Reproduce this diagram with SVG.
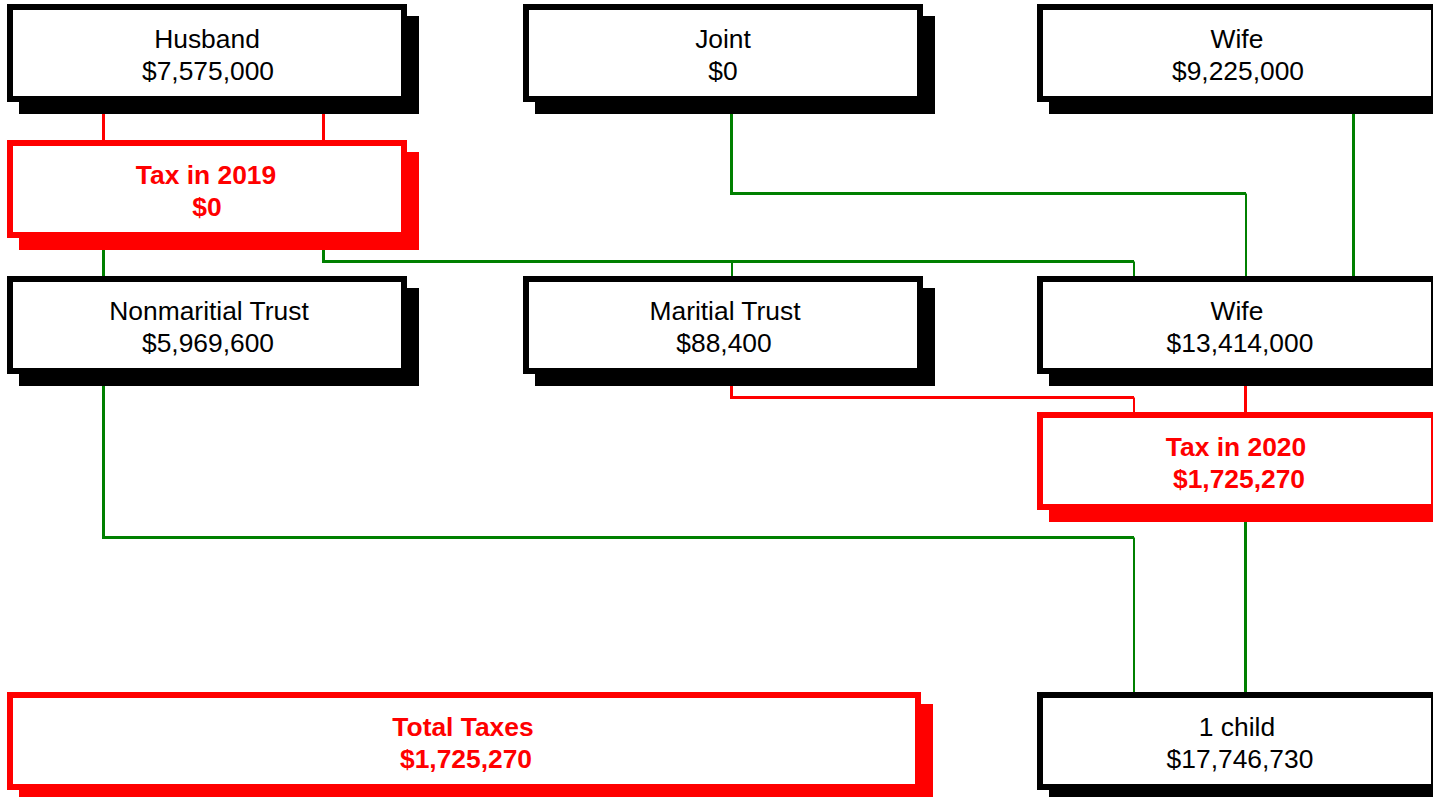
<svg xmlns="http://www.w3.org/2000/svg" width="1433" height="797" viewBox="0 0 1433 797">
<style>
.bg{fill:#ffffff}
.box{fill:#ffffff;stroke:#000000;stroke-width:6}
.sh{fill:#000000}
.rbox{fill:#ffffff;stroke:#ff0000;stroke-width:6}
.rsh{fill:#ff0000}
.t{font-family:"Liberation Sans",Arial,sans-serif;font-size:26.4px;fill:#000000;text-anchor:middle}
.rt{font-family:"Liberation Sans",Arial,sans-serif;font-size:26.4px;font-weight:bold;fill:#ff0000;text-anchor:middle}
.g{fill:none;stroke:#008000;stroke-width:3}
.gt{fill:none;stroke:#008000;stroke-width:2}
.r{fill:none;stroke:#ff0000;stroke-width:3}
.rtn{fill:none;stroke:#ff0000;stroke-width:2}
</style>
<rect class="bg" x="0" y="0" width="1433" height="797"/>
<g id="connectors">
  <path class="r" d="M103.5,100 V142"/>
  <path class="r" d="M323.5,100 V142"/>
  <path class="g" d="M103.5,236 V278"/>
  <path class="g" d="M323.5,236 V261.5 H1134"/>
  <path class="gt" d="M1134,261.5 V278"/>
  <path class="gt" d="M732,261.5 V278"/>
  <path class="g" d="M731.5,100 V193.5 H1246"/>
  <path class="gt" d="M1246,193.5 V278"/>
  <path class="g" d="M1353.5,100 V278"/>
  <path class="r" d="M731.5,372 V397.5 H1134"/>
  <path class="rtn" d="M1134,397.5 V414"/>
  <path class="r" d="M1245.5,372 V414"/>
  <path class="g" d="M103.5,372 V537.5 H1134"/>
  <path class="gt" d="M1134,537.5 V694"/>
  <path class="g" d="M1245.5,508 V694"/>
</g>
<g id="husband">
  <rect class="sh" x="19" y="16" width="400" height="98"/>
  <rect class="box" x="10" y="7" width="394" height="92"/>
  <text class="t" x="207" y="48">Husband</text>
  <text class="t" x="208" y="80">$7,575,000</text>
</g>
<g id="joint">
  <rect class="sh" x="535" y="16" width="400" height="98"/>
  <rect class="box" x="526" y="7" width="394" height="92"/>
  <text class="t" x="723" y="48">Joint</text>
  <text class="t" x="723" y="80">$0</text>
</g>
<g id="wife">
  <rect class="sh" x="1049" y="16" width="400" height="98"/>
  <rect class="box" x="1040" y="7" width="394" height="92"/>
  <text class="t" x="1237" y="48">Wife</text>
  <text class="t" x="1238" y="80">$9,225,000</text>
</g>
<g id="tax2019">
  <rect class="rsh" x="19" y="152" width="400" height="98"/>
  <rect class="rbox" x="10" y="143" width="394" height="92"/>
  <text class="rt" x="206" y="184">Tax in 2019</text>
  <text class="rt" x="207" y="216">$0</text>
</g>
<g id="nonmaritial-trust">
  <rect class="sh" x="19" y="288" width="400" height="98"/>
  <rect class="box" x="10" y="279" width="394" height="92"/>
  <text class="t" x="209" y="320">Nonmaritial Trust</text>
  <text class="t" x="208" y="352">$5,969,600</text>
</g>
<g id="maritial-trust">
  <rect class="sh" x="535" y="288" width="400" height="98"/>
  <rect class="box" x="526" y="279" width="394" height="92"/>
  <text class="t" x="725" y="320">Maritial Trust</text>
  <text class="t" x="724" y="352">$88,400</text>
</g>
<g id="wife-2020">
  <rect class="sh" x="1049" y="288" width="400" height="98"/>
  <rect class="box" x="1040" y="279" width="394" height="92"/>
  <text class="t" x="1237" y="320">Wife</text>
  <text class="t" x="1240" y="352">$13,414,000</text>
</g>
<g id="tax2020">
  <rect class="rsh" x="1049" y="424" width="400" height="98"/>
  <rect class="rbox" x="1040" y="415" width="394" height="92"/>
  <text class="rt" x="1236" y="456">Tax in 2020</text>
  <text class="rt" x="1239" y="488">$1,725,270</text>
</g>
<g id="total-taxes">
  <rect class="rsh" x="19" y="704" width="914" height="98"/>
  <rect class="rbox" x="10" y="695" width="908" height="92"/>
  <text class="rt" x="463" y="736">Total Taxes</text>
  <text class="rt" x="466" y="768">$1,725,270</text>
</g>
<g id="child">
  <rect class="sh" x="1049" y="704" width="400" height="98"/>
  <rect class="box" x="1040" y="695" width="394" height="92"/>
  <text class="t" x="1237" y="736">1 child</text>
  <text class="t" x="1240" y="768">$17,746,730</text>
</g>
</svg>
